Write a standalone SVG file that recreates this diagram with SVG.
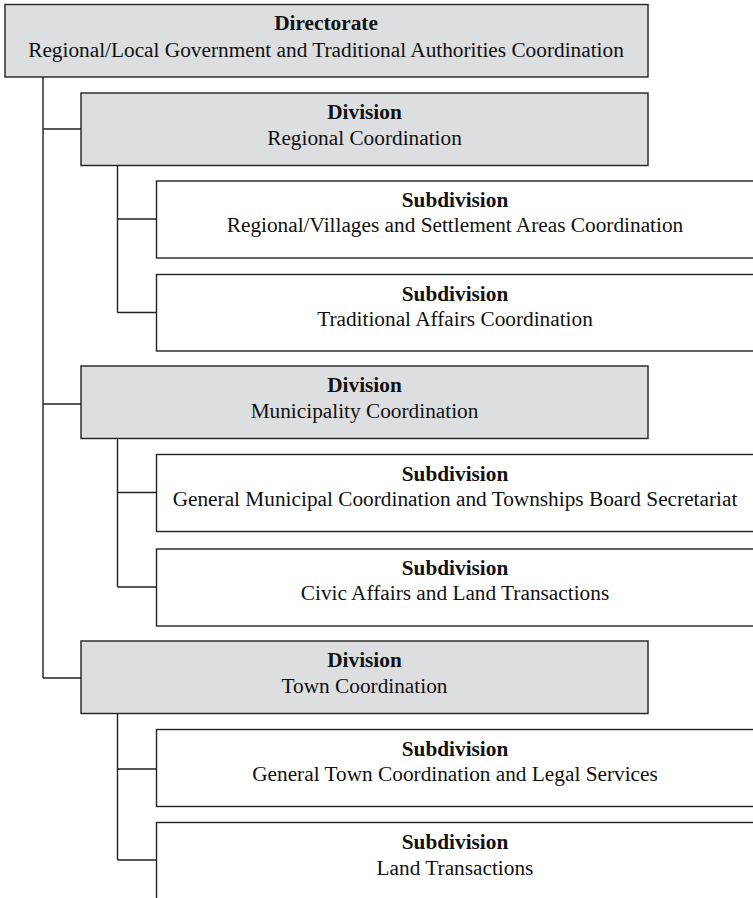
<svg xmlns="http://www.w3.org/2000/svg" width="753" height="898" viewBox="0 0 753 898">
<style>
.box{stroke:#222;stroke-width:1.4;}
.dir,.div{fill:#dddee0;}
.sub{fill:#fff;}
.t{font-family:"Liberation Serif","Times New Roman",serif;font-size:21.3px;fill:#111;text-anchor:middle;}
.b{font-weight:bold;}
.c{fill:none;stroke:#222;stroke-width:1.4;}
</style>
<rect width="753" height="898" fill="#fff"/>
<g id="connectors">
<path class="c" d="M43,77V678M43,129H81M43,404H81M43,678H81"/>
<path class="c" d="M117.5,165.5V312.5M117.5,219H156.5M117.5,312.5H156.5"/>
<path class="c" d="M117.5,438.5V587M117.5,492.5H156.5M117.5,587H156.5"/>
<path class="c" d="M117.5,713.5V860M117.5,769H156.5M117.5,860H156.5"/>
</g>
<g id="directorate">
<rect class="box dir" x="5" y="4.5" width="643" height="72.5"/>
<text class="t b" x="326" y="30">Directorate</text>
<text class="t" x="326" y="57">Regional/Local Government and Traditional Authorities Coordination</text>
</g>
<g id="div1">
<rect class="box div" x="81" y="93" width="567" height="72.5"/>
<text class="t b" x="364.5" y="118.5">Division</text>
<text class="t" x="364.5" y="145">Regional Coordination</text>
</g>
<g id="sub1">
<rect class="box sub" x="156.5" y="181" width="620" height="77"/>
<text class="t b" x="455" y="207">Subdivision</text>
<text class="t" x="455" y="232">Regional/Villages and Settlement Areas Coordination</text>
</g>
<g id="sub2">
<rect class="box sub" x="156.5" y="274.5" width="620" height="76.5"/>
<text class="t b" x="455" y="300.5">Subdivision</text>
<text class="t" x="455" y="325.5">Traditional Affairs Coordination</text>
</g>
<g id="div2">
<rect class="box div" x="81" y="366" width="567" height="72.5"/>
<text class="t b" x="364.5" y="391.5">Division</text>
<text class="t" x="364.5" y="418">Municipality Coordination</text>
</g>
<g id="sub3">
<rect class="box sub" x="156.5" y="454.5" width="620" height="77"/>
<text class="t b" x="455" y="480.5">Subdivision</text>
<text class="t" x="455" y="505.5">General Municipal Coordination and Townships Board Secretariat</text>
</g>
<g id="sub4">
<rect class="box sub" x="156.5" y="549" width="620" height="77"/>
<text class="t b" x="455" y="575">Subdivision</text>
<text class="t" x="455" y="600">Civic Affairs and Land Transactions</text>
</g>
<g id="div3">
<rect class="box div" x="81" y="641" width="567" height="72.5"/>
<text class="t b" x="364.5" y="666.5">Division</text>
<text class="t" x="364.5" y="693">Town Coordination</text>
</g>
<g id="sub5">
<rect class="box sub" x="156.5" y="729.5" width="620" height="77"/>
<text class="t b" x="455" y="755.5">Subdivision</text>
<text class="t" x="455" y="780.5">General Town Coordination and Legal Services</text>
</g>
<g id="sub6">
<rect class="box sub" x="156.5" y="822.5" width="620" height="100"/>
<text class="t b" x="455" y="848.5">Subdivision</text>
<text class="t" x="455" y="875">Land Transactions</text>
</g>
</svg>
